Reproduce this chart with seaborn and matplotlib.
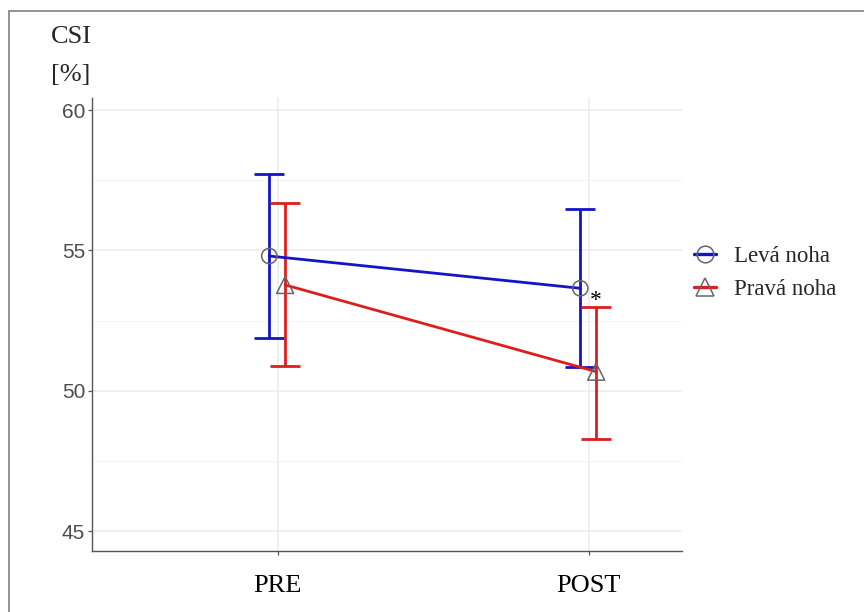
import numpy as np
import pandas as pd
import matplotlib
matplotlib.use("Agg")
import matplotlib.pyplot as plt
from matplotlib.lines import Line2D
import seaborn as sns

# data
casy = ["PRE", "POST"]
skupiny = ["Levá noha", "Pravá noha"]
prumer_leva = [54.80, 53.65]
horni_leva = [57.74, 56.46]
dolni_leva = [51.89, 50.83]
prumer_prava = [53.77, 50.68]
horni_prava = [56.68, 52.97]
dolni_prava = [50.88, 48.28]

barvy = {"Levá noha": "#1414C8", "Pravá noha": "#DC1E1E"}
znacky = {"Levá noha": "o", "Pravá noha": "^"}
velikost = {"Levá noha": 120, "Pravá noha": 150}
posun = {"Levá noha": -0.027, "Pravá noha": 0.024}

rows = []
for skup, pr, ho, do in [("Levá noha", prumer_leva, horni_leva, dolni_leva),
                         ("Pravá noha", prumer_prava, horni_prava, dolni_prava)]:
    for i, cas in enumerate(casy):
        rows.append({"cas": cas, "skupina": skup, "x": i + 1 + posun[skup],
                     "prumer": pr[i], "horni": ho[i], "dolni": do[i]})
df = pd.DataFrame(rows)

sns.set_theme(style="white")
serif = ["Liberation Serif", "DejaVu Serif"]
sans = ["Liberation Sans", "DejaVu Sans"]

fig = plt.figure(figsize=(8.64, 6.12), dpi=100)
ax = fig.add_axes([92 / 864, 1 - 551 / 612, 590 / 864, 453 / 612])

# grid
for yv in [45, 50, 55, 60]:
    ax.axhline(yv, color="#EBEBEB", lw=1.1, zorder=0)
for yv in [47.5, 52.5, 57.5]:
    ax.axhline(yv, color="#F2F2F2", lw=0.6, zorder=0)
for xv in [1, 2]:
    ax.axvline(xv, color="#EBEBEB", lw=1.1, zorder=0)

# error bars
for skup in skupiny:
    d = df[df.skupina == skup]
    ax.errorbar(d.x, d.prumer, yerr=[d.prumer - d.dolni, d.horni - d.prumer],
                fmt="none", ecolor=barvy[skup], elinewidth=2.0, capsize=11,
                capthick=2.0, zorder=2)

sns.lineplot(data=df, x="x", y="prumer", hue="skupina", palette=barvy,
             lw=2.0, ax=ax, legend=False, zorder=3, sort=True)

for skup in skupiny:
    d = df[df.skupina == skup]
    ax.scatter(d.x, d.prumer, marker=znacky[skup], s=velikost[skup],
               facecolors="none", edgecolors="#666666", linewidths=1.1,
               zorder=4)

ax.text(2.024, 52.85, "*", fontsize=17, ha="center", va="bottom",
        family=serif, color="black")

ax.set_xlim(0.403, 2.30)
ax.set_ylim(44.29, 60.43)
ax.set_xticks([1, 2])
ax.set_xticklabels(casy, family=serif, fontsize=19, color="black")
ax.set_yticks([45, 50, 55, 60])
ax.set_yticklabels(["45", "50", "55", "60"], family=sans, fontsize=15,
                   color="#4D4D4D")
ax.tick_params(axis="both", length=3, width=0.9, color="#555555",
               bottom=True, left=True)
ax.tick_params(axis="x", pad=14)
ax.tick_params(axis="y", pad=2)
ax.set_xlabel("")
ax.set_ylabel("")
for s in ["top", "right"]:
    ax.spines[s].set_visible(False)
for s in ["left", "bottom"]:
    ax.spines[s].set_color("#555555")
    ax.spines[s].set_linewidth(1.0)

fig.text(51 / 864, 1 - 37 / 612, "CSI", family=serif, fontsize=19,
         va="center", ha="left")
fig.text(51 / 864, 1 - 75 / 612, "[%]", family=serif, fontsize=19,
         va="center", ha="left")

handles = [Line2D([0], [0], color=barvy[s], lw=2.4, marker=znacky[s],
                  markersize=12 if s == "Levá noha" else 13,
                  markerfacecolor="none",
                  markeredgecolor="#666666", markeredgewidth=1.1)
           for s in skupiny]
leg = fig.legend(handles, skupiny, loc="center left",
                 bbox_to_anchor=(685 / 864, 1 - 273 / 612), frameon=False,
                 prop={"family": serif, "size": 16.5}, handlelength=0.95,
                 handletextpad=0.8, labelspacing=0.55, borderaxespad=0)

# frame around figure
fig.add_artist(Line2D([9 / 864, 1], [1 - 11 / 612, 1 - 11 / 612],
                      transform=fig.transFigure, color="#808080", lw=1.2))
fig.add_artist(Line2D([9 / 864, 9 / 864], [0, 1 - 11 / 612],
                      transform=fig.transFigure, color="#808080", lw=1.2))

fig.savefig("out.png", dpi=100)
